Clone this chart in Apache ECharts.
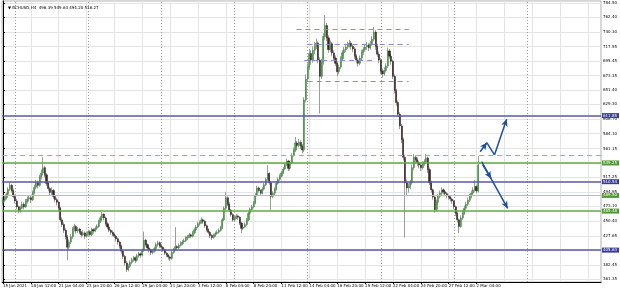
<!DOCTYPE html>
<html><head><meta charset="utf-8">
<script src="https://cdn.jsdelivr.net/npm/echarts@6/dist/echarts.min.js"></script>
<style>html,body{margin:0;padding:0;background:#fff}#c{width:620px;height:290px}</style>
</head><body><div id="c"></div>
<script>
const symbolName = 'BCHUSD,H4';
const xLabels = ['15 Jan 2021','18 Jan 12:00','21 Jan 04:00','23 Jan 20:00','26 Jan 12:00','29 Jan 04:00','31 Jan 20:00','3 Feb 12:00','6 Feb 04:00','8 Feb 20:00','11 Feb 12:00','14 Feb 04:00','16 Feb 20:00','19 Feb 12:00','22 Feb 04:00','24 Feb 20:00','27 Feb 12:00','2 Mar 04:00'];
const yTicks = [784.50,762.40,740.30,717.55,695.45,673.35,651.40,629.30,606.70,584.10,561.15,539.05,517.25,494.95,473.10,450.40,427.65,405.55,382.45,361.35];
const separators = [7,49,91,133,175,217,259,301];
const gridCols = [0,16,32,48,64,80,96,112,128,144,160,176,192,208,224,240,256,272,288,304,320,336];
const blueLevels = [611.85, 510.54, 405.63];
const greenLevels = [539.25, 465.48];
const lightGreenLevels = [489.50];
const redLevels = [551.00];
const zoneLevels = [744.6, 721.6, 696.0, 663.8];
const zoneStart = [168.6, 175, 173, 175];
const zoneEnd = [233, 233, 212, 233];
const arrowUp = [[274.1,556.5],[277.9,570.3],[282.3,551.5],[289.3,606.2]];
const arrowDown = [[274.9,541.2],[289.9,469.7]];
const arrowDownShort = [[275.6,536.5],[280.4,515.5]];
// rows: [open, high, low, close]
const ohlc = [
[478,487,474,482],[482,489,479,486],[486,494,483,491],[491,502,488,499],[499,510,496,505],
[505,507,494,497],[497,500,485,488],[488,491,477,481],[481,484,468,472],[472,474,462,466],
[466,474,463,470],[470,480,468,476],[476,479,468,472],[472,484,470,480],[480,488,477,484],
[484,490,480,486],[486,489,478,483],[483,497,481,494],[494,506,491,502],[502,513,499,509],
[509,512,500,505],[505,521,503,518],[518,529,514,524],[524,548,520,532],[532,535,517,521],
[521,524,504,508],[508,511,496,500],[500,503,489,494],[494,502,490,497],[497,499,484,488],
[488,492,479,483],[483,486,474,479],[479,481,466,470],[470,472,449,452],[452,456,441,445],
[445,448,432,436],[436,439,422,426],[426,429,390,410],[410,422,406,418],[418,430,415,426],
[426,441,423,438],[438,446,434,442],[442,444,431,435],[435,441,432,438],[438,440,430,433],
[433,435,425,429],[429,436,427,432],[432,434,423,427],[427,434,425,431],[431,437,428,434],
[434,436,426,429],[429,440,427,437],[437,439,431,435],[435,442,433,439],[439,445,436,442],
[442,452,440,450],[450,458,447,455],[455,464,452,461],[461,462,451,455],[455,457,443,446],
[446,449,438,441],[441,444,433,436],[436,438,429,433],[433,436,427,430],[430,432,424,427],
[427,429,419,423],[423,425,414,418],[418,420,408,412],[412,414,400,404],[404,406,392,396],
[396,398,382,386],[386,389,372,376],[376,384,373,381],[381,390,378,387],[387,394,384,391],
[391,397,388,394],[394,396,386,390],[390,400,388,397],[397,403,394,400],[400,402,394,398],
[398,408,396,405],[405,434,403,421],[421,423,411,414],[414,416,406,409],[409,411,402,406],
[406,408,398,402],[402,407,399,404],[404,411,402,408],[408,417,406,414],[414,420,411,417],
[417,419,409,412],[412,415,407,410],[410,412,403,406],[406,408,398,401],[401,403,395,398],
[398,400,391,395],[395,397,389,393],[393,405,391,402],[402,409,400,406],[406,441,404,411],
[411,413,405,409],[409,416,407,413],[413,419,411,416],[416,421,413,418],[418,423,415,420],
[420,427,418,424],[424,429,421,426],[426,432,424,429],[429,431,424,427],[427,435,425,432],
[432,440,430,437],[437,444,435,441],[441,449,439,446],[446,451,443,448],[448,456,446,452],
[452,454,446,450],[450,452,440,443],[443,445,434,437],[437,439,430,433],[433,435,424,428],
[428,430,421,425],[425,431,423,428],[428,434,426,431],[431,436,429,433],[433,439,431,436],
[436,443,434,440],[440,455,438,452],[452,473,450,470],[470,495,467,486],[486,488,473,476],
[476,479,464,467],[467,469,457,460],[460,462,449,452],[452,458,450,455],[455,461,453,458],
[458,460,452,456],[456,458,444,447],[447,449,432,439],[439,444,436,441],[441,448,439,445],
[445,455,443,452],[452,465,450,462],[462,471,460,468],[468,475,466,472],[472,481,470,478],
[478,493,476,490],[490,504,488,501],[501,503,494,497],[497,499,490,493],[493,502,491,499],
[499,509,497,506],[506,517,504,514],[514,536,512,523],[523,525,506,509],[509,511,467,488],
[488,496,485,493],[493,502,490,499],[499,511,497,508],[508,517,506,514],[514,522,512,519],
[519,527,517,524],[524,533,522,530],[530,540,528,537],[537,546,534,542],[542,544,527,531],
[531,543,528,540],[540,554,538,551],[551,563,549,559],[559,579,556,570],[570,573,561,566],
[566,576,563,571],[571,574,561,565],[565,568,554,559],[559,640,556,636],[636,675,632,668],
[668,692,663,686],[686,714,682,707],[707,712,690,697],[697,718,693,712],[712,725,706,718],
[718,730,714,723],[723,726,692,697],[697,701,615,672],[672,699,668,694],[694,738,690,733],
[733,766,728,750],[750,754,726,731],[731,735,708,713],[713,727,709,722],[722,725,703,708],
[708,712,696,700],[700,704,688,692],[692,695,672,679],[679,690,675,686],[686,703,683,699],
[699,712,696,708],[708,717,704,713],[713,721,709,717],[717,725,714,720],[720,728,716,723],
[723,726,713,718],[718,721,709,714],[714,717,699,703],[703,706,692,697],[697,700,687,692],
[692,704,689,700],[700,713,697,709],[709,717,705,713],[713,722,710,717],[717,725,713,720],
[720,723,711,716],[716,726,713,722],[722,734,719,729],[729,748,726,740],[740,743,713,718],
[718,722,702,706],[706,710,692,697],[697,700,675,680],[680,684,670,676],[676,686,673,681],
[681,692,678,688],[688,716,685,711],[711,714,699,703],[703,706,690,695],[695,698,668,672],
[672,675,646,650],[650,653,627,632],[632,635,610,614],[614,617,591,596],[596,599,570,575],
[575,578,543,548],[548,552,425,509],[509,514,490,501],[501,508,494,503],[503,513,499,509],
[509,537,506,532],[532,553,528,548],[548,551,538,544],[544,548,535,540],[540,543,531,536],
[536,539,527,532],[532,542,529,538],[538,545,535,541],[541,553,538,547],[547,549,524,529],
[529,532,505,509],[509,512,494,498],[498,500,483,487],[487,489,463,468],[468,483,465,479],
[479,492,476,488],[488,497,485,493],[493,502,490,498],[498,500,491,495],[495,497,488,492],
[492,495,485,489],[489,491,483,487],[487,490,480,484],[484,486,476,481],[481,483,468,472],
[472,474,458,462],[462,464,448,452],[452,454,432,442],[442,459,440,455],[455,466,452,462],
[462,474,460,470],[470,480,467,476],[476,486,473,482],[482,492,479,488],[488,497,485,493],
[493,502,490,498],[498,513,495,503],[503,506,493,496.39],[496.39,549.63,494.20,536.27]
];

const SLOTS = 344;
const slots = Array.from({length: SLOTS}, (_, i) => String(i));
const last = ohlc[ohlc.length - 1];
const titleText = '\u25BC ' + symbolName + '  ' + last.map(v => v.toFixed(2)).join(' ');
const wickData = ohlc.map(r => [r[0], r[3], r[2], r[1]]);
const bodyData = ohlc.map(r => [r[0], r[3], Math.min(r[0], r[3]), Math.max(r[0], r[3])]);
const FONT = 'DejaVu Sans';
const FS = 4;
const labelShown = (i) => i % 16 === 0 && (i / 16) < xLabels.length;

const gridMarks = [];
yTicks.forEach(v => gridMarks.push({yAxis: v, lineStyle: {color: '#e4e4e4', width: 1, type: 'solid'}}));
gridCols.forEach(v => gridMarks.push({xAxis: v, lineStyle: {color: '#e4e4e4', width: 1, type: 'solid'}}));
separators.forEach(v => gridMarks.push({xAxis: v, lineStyle: {color: '#9a9a9a', width: 1, type: [1, 2]}}));

function lvl(v, color, width, type, bg) {
  return {
    yAxis: v,
    lineStyle: {color, width, type},
    label: bg ? {show: true, position: 'end', formatter: v.toFixed(2), backgroundColor: bg, color: '#fff',
      fontSize: FS, fontFamily: FONT, padding: [1, 2, 0, 1], distance: 1} : {show: false}
  };
}
const levelMarks = [];
redLevels.forEach(v => levelMarks.push(lvl(v, '#e48c8c', 1.2, [5, 4], null)));
lightGreenLevels.forEach(v => levelMarks.push(lvl(v, '#a6d08a', 1.2, 'solid', '#4f9a2e')));
greenLevels.forEach(v => levelMarks.push(lvl(v, '#63a844', 1.5, 'solid', '#4f9a2e')));
blueLevels.forEach(v => levelMarks.push(lvl(v, '#5858ac', 1.5, 'solid', '#3a3a9c')));
zoneLevels.forEach((v, k) => levelMarks.push([
  {coord: [zoneStart[k], v], lineStyle: {color: '#8c8cc4', width: 1, type: [5, 4]}, label: {show: false}},
  {coord: [zoneEnd[k], v]}
]));
function seg(a, b, head) {
  return [
    {coord: a, symbol: 'none', lineStyle: {color: '#1d4f9e', width: 1.5, type: 'solid'}, label: {show: false}},
    {coord: b, symbol: head ? 'arrow' : 'none', symbolSize: [5, 7]}
  ];
}
for (let k = 0; k < arrowUp.length - 1; k++) levelMarks.push(seg(arrowUp[k], arrowUp[k + 1], k !== 1));
levelMarks.push(seg(arrowDown[0], arrowDown[1], true));
levelMarks.push(seg(arrowDownShort[0], arrowDownShort[1], true));

const chart = echarts.init(document.getElementById('c'), null, {renderer: 'canvas'});
chart.setOption({
  animation: false,
  backgroundColor: '#fff',
  title: {text: titleText, left: 3, top: 1, textStyle: {fontSize: FS, fontWeight: 'normal', color: '#000', fontFamily: FONT}},
  grid: {left: 1, right: 17, top: 1, bottom: 8, show: true, borderColor: '#b0b0b0', borderWidth: 1, backgroundColor: 'transparent'},
  xAxis: [{
    type: 'category', data: slots, boundaryGap: true,
    axisLine: {show: true, lineStyle: {color: '#000', width: 1}},
    axisTick: {show: true, interval: labelShown, alignWithLabel: true, length: 2, lineStyle: {color: '#000'}},
    axisLabel: {interval: labelShown, formatter: (v, i) => xLabels[Number(v) / 16], align: 'left', fontSize: FS, fontFamily: FONT, color: '#000', margin: 2},
    splitLine: {show: false}
  }, {
    type: 'value', min: -0.5, max: SLOTS - 0.5, show: false
  }],
  yAxis: [{
    type: 'value', position: 'right', min: 356.75, max: 787.55, scale: true,
    axisLine: {show: true, lineStyle: {color: '#000', width: 1}},
    axisTick: {show: true, customValues: yTicks, length: 2, lineStyle: {color: '#000'}},
    axisLabel: {customValues: yTicks, formatter: v => v.toFixed(2), fontSize: FS, fontFamily: FONT, color: '#000', margin: 2},
    splitLine: {show: false}
  }],
  series: [
    {type: 'line', xAxisIndex: 1, yAxisIndex: 0, data: [[0, 500]], showSymbol: false, lineStyle: {opacity: 0}, silent: true, z: 0,
      markLine: {silent: true, symbol: ['none', 'none'], animation: false, z: 0, label: {show: false}, data: gridMarks}},
    {type: 'candlestick', name: 'wick', xAxisIndex: 0, data: wickData, barWidth: 0.6, silent: true, z: 3,
      itemStyle: {color: '#9c9c9c', color0: '#9c9c9c', borderColor: '#9c9c9c', borderColor0: '#9c9c9c', borderWidth: 1}},
    {type: 'candlestick', name: 'body', xAxisIndex: 0, data: bodyData, barWidth: 1.6, silent: true, z: 4,
      itemStyle: {color: '#4f9f4f', color0: '#3a2626', borderColor: '#3f8a3f', borderColor0: '#2e1c1c', borderWidth: 0.5}},
    {type: 'line', xAxisIndex: 1, yAxisIndex: 0, data: [[0, 500]], showSymbol: false, lineStyle: {opacity: 0}, silent: true, z: 6,
      markLine: {silent: true, symbol: ['none', 'none'], animation: false, z: 6, data: levelMarks}}
  ]
});
</script></body></html>
